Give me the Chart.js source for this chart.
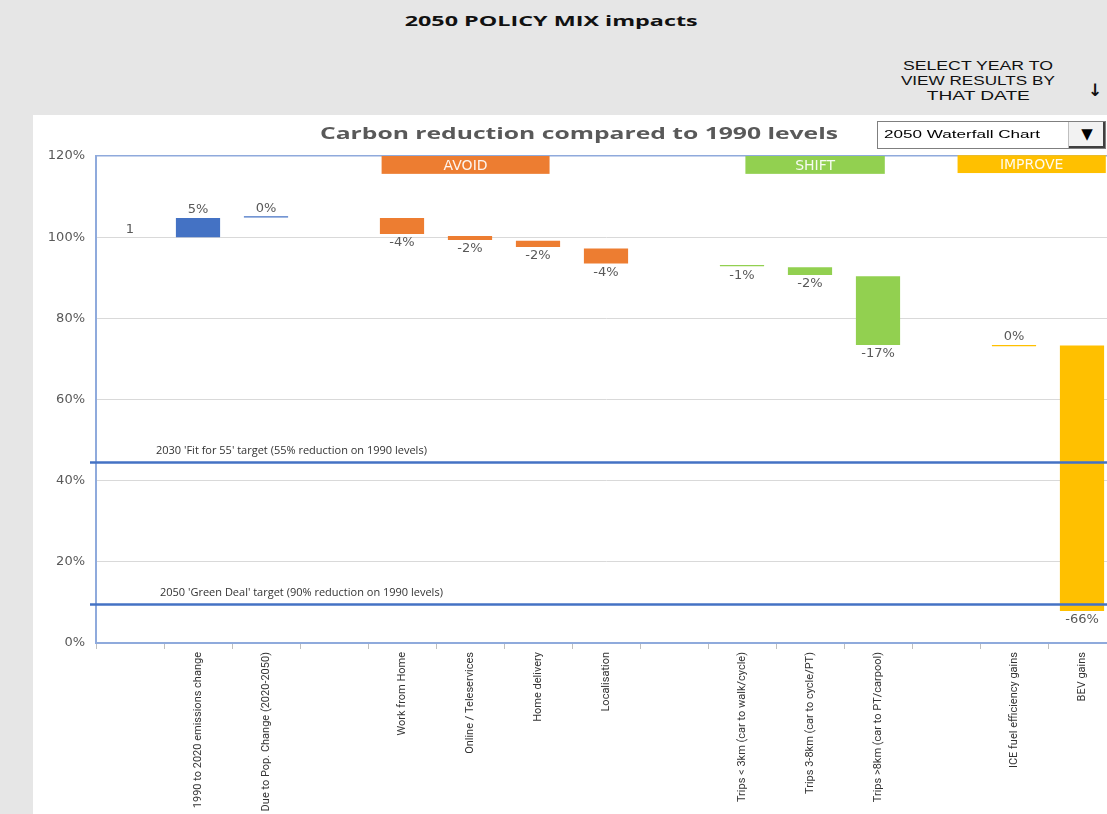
<!DOCTYPE html>
<html>
<head>
<meta charset="utf-8">
<title>2050 POLICY MIX impacts</title>
<script src="https://cdn.jsdelivr.net/npm/chart.js@4.4.1/dist/chart.umd.min.js"></script>
<style>
  html, body { margin: 0; padding: 0; }
  body {
    width: 1107px; height: 814px; overflow: hidden; position: relative;
    background: #e6e6e6; font-family: "Open Sans", sans-serif;
  }
  #panel { position: absolute; left: 33px; top: 115px; width: 1074px; height: 699px; background: #fff; }
  #chartBox { position: absolute; left: 33px; top: 115px; width: 1090px; height: 699px; }
  .txt { position: absolute; left: 0; top: 0; white-space: nowrap; }
  #pageTitle { font: bold 15px "Open Sans", sans-serif; color: #111; }
  .note { font: 12px "Liberation Sans", sans-serif; color: #111; }
  #arrow { font: bold 17px "DejaVu Sans", sans-serif; color: #111; }
  #chartTitle { font: bold 16px "Open Sans", sans-serif; color: #595959; }
  #dropdown {
    position: absolute; left: 877px; top: 121px; width: 227px; height: 26px;
    border: 1px solid #7f7f7f; background: #fff;
  }
  #dropBtn {
    position: absolute; right: 0; top: 0; width: 36px; height: 26px;
    background: #f2f2f2; border-left: 1px solid #bfbfbf;
    box-shadow: inset -2px -2px 0 #404040;
    font: 15px "DejaVu Sans", sans-serif; color: #000; text-align: center; line-height: 25px;
  }
  #dropText { font: 11px "Liberation Sans", sans-serif; color: #000; }
</style>
</head>
<body>
<div id="panel"></div>
<div id="chartBox"><canvas id="waterfall"></canvas></div>

<div id="pageTitle" class="txt">2050 POLICY MIX impacts</div>
<div id="note1" class="txt note">SELECT YEAR TO</div>
<div id="note2" class="txt note">VIEW RESULTS BY</div>
<div id="note3" class="txt note">THAT DATE</div>
<div id="arrow" class="txt">↓</div>
<div id="chartTitle" class="txt">Carbon reduction compared to 1990 levels</div>
<div id="dropdown"><div id="dropBtn">▼</div></div>
<div id="dropText" class="txt">2050 Waterfall Chart</div>

<script>
// Chart data
const categories = [
    '',
    '1990 to 2020 emissions change',
    'Due to Pop. Change (2020-2050)',
    '',
    'Work from Home',
    'Online / Teleservices',
    'Home delivery',
    'Localisation',
    '',
    'Trips < 3km (car to walk/cycle)',
    'Trips 3-8km (car to cycle/PT)',
    'Trips >8km (car to PT/carpool)',
    '',
    'ICE fuel efficiency gains',
    'BEV gains'
];
// floating bar start / end, % of 1990 emissions
const barFrom = [100, 100, 104.85, null, 104.7, 100.3, 99.1, 97.2, null, 93.15, 92.6, 90.4, null, 73.45, 73.3];
const barTo   = [100, 104.7, 105.15, null, 100.8, 99.3, 97.6, 93.5, null, 92.85, 90.7, 73.4, null, 73.1, 7.9];
const valueLabels = ['1', '5%', '0%', '', '-4%', '-2%', '-2%', '-4%', '', '-1%', '-2%', '-17%', '', '0%', '-66%'];
const barGroup = ['base', 'trend', 'trend', null, 'avoid', 'avoid', 'avoid', 'avoid', null,
                  'shift', 'shift', 'shift', null, 'improve', 'improve'];

const groupNames = ['AVOID', 'SHIFT', 'IMPROVE'];
const groupKeys = ['avoid', 'shift', 'improve'];

const targetValues = [44.5, 9.5];
const targetLabels = [
    "2030 'Fit for 55' target (55% reduction on 1990 levels)",
    "2050 'Green Deal' target (90% reduction on 1990 levels)"
];

const yMin = 0, yMax = 120, yStep = 20;

// styles
const groupColors = {
    base: 'rgba(0,0,0,0)',
    trend: '#4472c4',
    avoid: '#ed7d31',
    shift: '#92d050',
    improve: '#ffc000'
};
// header box extents in category units
const groupBoxes = [
    { from: 3.7, to: 6.17, top: 120, bottom: 115.6 },
    { from: 9.05, to: 11.1, top: 120, bottom: 115.6 },
    { from: 12.17, to: 14.35, top: 120.2, bottom: 115.8 }
];

function placeText(id, x, y, width, align) {
    const el = document.getElementById(id);
    const r = el.getBoundingClientRect();
    el.style.top = (y - r.height / 2) + 'px';
    if (align === 'center') {
        el.style.left = (x - r.width / 2) + 'px';
        el.style.transformOrigin = 'center center';
    } else {
        el.style.left = x + 'px';
        el.style.transformOrigin = 'left center';
    }
    if (width) el.style.transform = 'scaleX(' + (width / r.width) + ')';
}

placeText('pageTitle', 551, 20, 293, 'center');
placeText('note1', 978, 66, 150, 'center');
placeText('note2', 978, 81, 154, 'center');
placeText('note3', 978, 96, 103, 'center');
placeText('arrow', 1095, 90, null, 'center');
placeText('chartTitle', 579, 133, 518, 'center');
placeText('dropText', 884, 134, 156, 'left');

// header boxes AVOID / SHIFT / IMPROVE
const groupHeaderPlugin = {
    id: 'groupHeaders',
    afterDatasetsDraw(chart) {
        const { ctx, scales: { x, y } } = chart;
        ctx.save();
        groupNames.forEach((name, i) => {
            const b = groupBoxes[i];
            const x0 = x.getPixelForValue(b.from), x1 = x.getPixelForValue(b.to);
            const y0 = y.getPixelForValue(b.top), y1 = y.getPixelForValue(b.bottom);
            ctx.fillStyle = groupColors[groupKeys[i]];
            ctx.fillRect(x0, y0, x1 - x0, y1 - y0);
            ctx.fillStyle = 'rgba(255,255,255,0.92)';
            ctx.font = '14px "DejaVu Sans", sans-serif';
            ctx.textAlign = 'center';
            ctx.textBaseline = 'middle';
            ctx.fillText(name, (x0 + x1) / 2, (y0 + y1) / 2 + 1);
        });
        ctx.restore();
    }
};

// target lines with their captions
const targetPlugin = {
    id: 'targets',
    afterDatasetsDraw(chart) {
        const { ctx, chartArea, scales: { y } } = chart;
        ctx.save();
        targetValues.forEach((v, i) => {
            const py = y.getPixelForValue(v);
            ctx.strokeStyle = '#4472c4';
            ctx.lineWidth = 2.5;
            ctx.beginPath();
            ctx.moveTo(chartArea.left - 6, py);
            ctx.lineTo(chartArea.right, py);
            ctx.stroke();
            ctx.fillStyle = '#333';
            ctx.font = '11px "Open Sans", sans-serif';
            ctx.textAlign = 'left';
            ctx.textBaseline = 'middle';
            ctx.fillText(targetLabels[i], chartArea.left + 60 + i * 4, py - 12);
        });
        ctx.restore();
    }
};

// value labels above (gains) or below (reductions) each bar
const valueLabelPlugin = {
    id: 'valueLabels',
    afterDatasetsDraw(chart) {
        const { ctx, scales: { y } } = chart;
        const meta = chart.getDatasetMeta(0);
        ctx.save();
        ctx.font = '13px "DejaVu Sans", sans-serif';
        ctx.fillStyle = '#595959';
        ctx.textAlign = 'center';
        ctx.textBaseline = 'middle';
        valueLabels.forEach((t, i) => {
            if (!t || barFrom[i] == null) return;
            const lo = Math.min(barFrom[i], barTo[i]);
            const hi = Math.max(barFrom[i], barTo[i]);
            const py = t.startsWith('-') ? y.getPixelForValue(lo) + 9 : y.getPixelForValue(hi) - 8;
            ctx.fillText(t, meta.data[i].x, py);
        });
        ctx.restore();
    }
};

const ctx = document.getElementById('waterfall');
new Chart(ctx, {
    type: 'bar',
    data: {
        labels: categories,
        datasets: [{
            data: categories.map((c, i) => barFrom[i] == null ? null : [barFrom[i], barTo[i]]),
            backgroundColor: barGroup.map(g => g ? groupColors[g] : 'rgba(0,0,0,0)'),
            borderWidth: 0,
            barPercentage: 0.65,
            categoryPercentage: 1
        }]
    },
    options: {
        responsive: true,
        maintainAspectRatio: false,
        animation: false,
        layout: { padding: { top: 41, right: 7, left: 0, bottom: 0 } },
        plugins: {
            legend: { display: false },
            tooltip: { enabled: false },
            title: { display: false }
        },
        scales: {
            y: {
                min: yMin,
                max: yMax,
                afterFit: (scale) => { scale.width = 63; },
                ticks: {
                    stepSize: yStep,
                    padding: 11,
                    color: '#595959',
                    font: { family: 'DejaVu Sans', size: 13 },
                    callback: (v) => v + '%'
                },
                grid: {
                    drawTicks: false,
                    color: (c) => c.tick && c.tick.value === yMax ? '#8faadc' : '#d9d9d9',
                    lineWidth: (c) => c.tick && c.tick.value === yMax ? 1.5 : 1
                },
                border: { color: '#8faadc', width: 2 }
            },
            x: {
                afterFit: (scale) => { scale.height = 171; },
                ticks: {
                    autoSkip: false,
                    minRotation: 90,
                    maxRotation: 90,
                    padding: 3,
                    color: '#333',
                    font: { family: 'Roboto', size: 11 }
                },
                grid: {
                    drawOnChartArea: false,
                    drawTicks: true,
                    tickLength: 6,
                    color: '#bfbfbf'
                },
                border: { color: '#8faadc', width: 2 }
            }
        }
    },
    plugins: [groupHeaderPlugin, targetPlugin, valueLabelPlugin]
});
</script>
</body>
</html>
